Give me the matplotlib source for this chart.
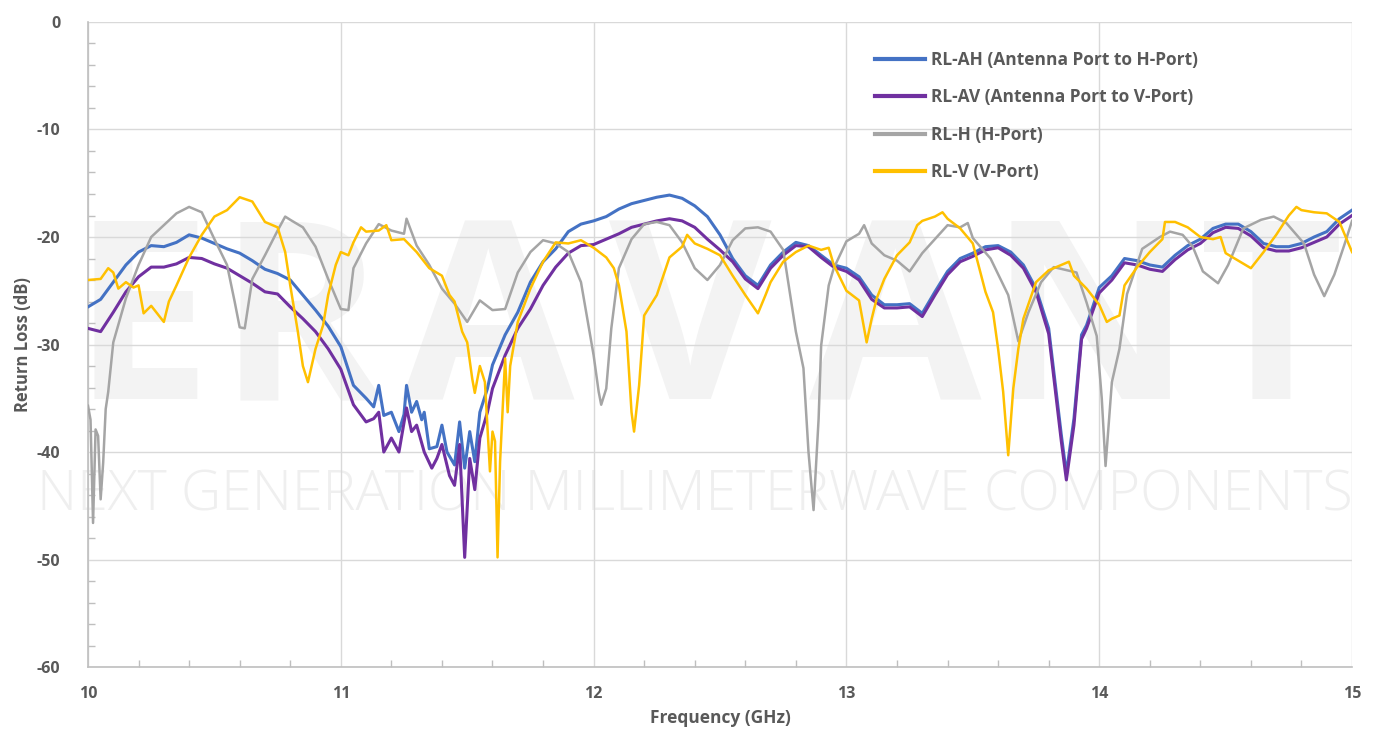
import numpy as np
import matplotlib
matplotlib.use("Agg")
import matplotlib.pyplot as plt

# ---- data (GHz, dB) ----
f_ah = [10.00, 10.05, 10.10, 10.15, 10.20, 10.25, 10.30, 10.35, 10.40, 10.45, 10.50, 10.55, 10.60, 10.65, 10.70, 10.75, 10.80, 10.85, 10.90, 10.95, 11.00,
        11.05, 11.10, 11.13, 11.15, 11.17, 11.20, 11.23, 11.25, 11.26, 11.28, 11.30, 11.32, 11.33, 11.35, 11.38, 11.40, 11.42, 11.45, 11.47, 11.49, 11.51, 11.53, 11.55, 11.58, 11.60, 11.65, 11.70, 11.75, 11.80, 11.85, 11.90, 11.95, 12.00,
        12.05, 12.10, 12.15, 12.20, 12.25, 12.30, 12.35, 12.40, 12.45, 12.50, 12.55, 12.60, 12.65, 12.70, 12.75, 12.80, 12.85, 12.90, 12.95, 13.00,
        13.05, 13.10, 13.15, 13.20, 13.25, 13.30, 13.35, 13.40, 13.45, 13.50, 13.55, 13.60, 13.65, 13.70, 13.75, 13.80, 13.85, 13.87, 13.90, 13.93, 13.95, 14.00,
        14.05, 14.10, 14.15, 14.20, 14.25, 14.30, 14.35, 14.40, 14.45, 14.50, 14.55, 14.60, 14.65, 14.70, 14.75, 14.80, 14.85, 14.90, 14.95, 15.00]
rl_ah = [-26.5, -25.8, -24.2, -22.6, -21.4, -20.8, -20.9, -20.5, -19.8, -20.1, -20.6, -21.1, -21.5, -22.2, -23.0, -23.4, -24.0, -25.4, -26.8, -28.3, -30.2,
         -33.8, -35.0, -35.8, -33.8, -36.6, -36.3, -38.1, -36.5, -33.8, -36.3, -35.3, -37.0, -36.3, -39.7, -39.5, -37.5, -40.0, -41.2, -37.2, -41.5, -38.1, -40.9, -36.3, -34.1, -31.9, -29.1, -27.0, -24.2, -22.3, -21.1, -19.5, -18.8, -18.5,
         -18.1, -17.4, -16.9, -16.6, -16.3, -16.1, -16.4, -17.1, -18.1, -19.8, -22.0, -23.6, -24.5, -22.6, -21.4, -20.5, -20.8, -21.7, -22.6, -22.9,
         -23.7, -25.4, -26.3, -26.3, -26.2, -27.1, -25.1, -23.2, -22.0, -21.5, -20.9, -20.8, -21.4, -22.6, -24.8, -28.5, -38.4, -42.0, -36.9, -29.1, -28.2, -24.7,
         -23.6, -22.0, -22.2, -22.6, -22.8, -21.7, -20.8, -20.2, -19.2, -18.8, -18.8, -19.5, -20.6, -20.9, -20.9, -20.6, -20.0, -19.5, -18.3, -17.5]

f_av = [10.00, 10.05, 10.10, 10.15, 10.20, 10.25, 10.30, 10.35, 10.40, 10.45, 10.50, 10.55, 10.60, 10.65, 10.70, 10.75, 10.80, 10.85, 10.90, 10.95, 11.00,
        11.05, 11.10, 11.13, 11.15, 11.17, 11.20, 11.23, 11.26, 11.28, 11.30, 11.33, 11.36, 11.38, 11.40, 11.43, 11.45, 11.47, 11.49, 11.51, 11.53, 11.55, 11.58, 11.60, 11.65, 11.70, 11.75, 11.80, 11.85, 11.90, 11.95, 12.00,
        12.05, 12.10, 12.15, 12.20, 12.25, 12.30, 12.35, 12.40, 12.45, 12.50, 12.55, 12.60, 12.65, 12.70, 12.75, 12.80, 12.85, 12.90, 12.95, 13.00,
        13.05, 13.10, 13.15, 13.20, 13.25, 13.30, 13.35, 13.40, 13.45, 13.50, 13.55, 13.60, 13.65, 13.70, 13.75, 13.80, 13.85, 13.87, 13.90, 13.93, 13.95, 14.00,
        14.05, 14.10, 14.15, 14.20, 14.25, 14.30, 14.35, 14.40, 14.45, 14.50, 14.55, 14.60, 14.65, 14.70, 14.75, 14.80, 14.85, 14.90, 14.95, 15.00]
rl_av = [-28.5, -28.8, -27.0, -25.1, -23.7, -22.8, -22.8, -22.5, -21.9, -22.0, -22.5, -22.9, -23.6, -24.3, -25.1, -25.3, -26.5, -27.6, -28.8, -30.4, -32.3,
         -35.6, -37.2, -36.9, -36.3, -40.0, -38.7, -40.0, -35.9, -38.1, -37.5, -40.0, -41.5, -40.6, -39.3, -42.2, -43.1, -39.3, -49.8, -40.6, -43.5, -38.7, -36.3, -34.1, -31.0, -28.5, -26.7, -24.5, -22.8, -21.5, -20.8, -20.7,
         -20.2, -19.7, -19.1, -18.8, -18.5, -18.3, -18.5, -19.1, -20.2, -21.2, -22.3, -23.9, -24.8, -22.9, -21.7, -20.8, -20.9, -21.9, -22.8, -23.2,
         -24.0, -25.8, -26.6, -26.6, -26.5, -27.4, -25.4, -23.5, -22.3, -21.8, -21.2, -21.0, -21.7, -22.9, -25.1, -29.0, -39.0, -42.6, -37.5, -29.5, -28.5, -25.2,
         -24.0, -22.4, -22.6, -23.0, -23.2, -22.1, -21.2, -20.6, -19.6, -19.1, -19.2, -19.9, -21.0, -21.3, -21.3, -21.0, -20.5, -20.0, -18.8, -18.0]

f_h = [10.00, 10.01, 10.02, 10.03, 10.04, 10.05, 10.06, 10.07, 10.08, 10.10, 10.15, 10.20, 10.25, 10.30, 10.35, 10.40, 10.45, 10.50, 10.55, 10.58, 10.60, 10.62, 10.65, 10.70, 10.75, 10.78, 10.80, 10.85, 10.90, 10.95, 11.00,
       11.03, 11.05, 11.10, 11.15, 11.20, 11.25, 11.26, 11.30, 11.35, 11.40, 11.45, 11.50, 11.53, 11.55, 11.60, 11.65, 11.70, 11.75, 11.80, 11.85, 11.90, 11.95, 12.00,
       12.02, 12.03, 12.05, 12.07, 12.10, 12.15, 12.20, 12.25, 12.30, 12.35, 12.40, 12.45, 12.50, 12.55, 12.60, 12.65, 12.70, 12.75, 12.80, 12.83, 12.85, 12.87, 12.89, 12.90, 12.93, 12.95, 13.00,
       13.05, 13.07, 13.10, 13.15, 13.20, 13.25, 13.30, 13.35, 13.40, 13.45, 13.48, 13.50, 13.57, 13.64, 13.68, 13.72, 13.77, 13.82, 13.91, 13.95, 13.99, 14.01, 14.025,
       14.05, 14.08, 14.11, 14.17, 14.24, 14.28, 14.33, 14.37, 14.41, 14.47, 14.51, 14.57, 14.64, 14.69, 14.74, 14.81, 14.85, 14.89, 14.93, 14.97, 15.00]
rl_h = [-35.7, -37.0, -46.6, -37.9, -38.5, -44.4, -41.0, -36.0, -34.4, -29.8, -25.7, -22.6, -20.0, -18.9, -17.8, -17.2, -17.7, -20.2, -22.6, -26.0, -28.4, -28.5, -23.9, -21.7, -19.4, -18.1, -18.4, -19.1, -20.9, -23.9, -26.7,
        -26.8, -22.9, -20.6, -18.8, -19.4, -19.7, -18.3, -20.8, -22.6, -24.8, -26.2, -27.9, -26.7, -25.9, -26.8, -26.7, -23.3, -21.4, -20.3, -20.6, -21.4, -24.2, -31.0,
        -34.4, -35.6, -34.1, -28.5, -22.9, -20.2, -18.8, -18.6, -18.9, -20.5, -22.9, -24.0, -22.6, -20.3, -19.2, -19.1, -19.5, -21.2, -28.8, -32.2, -40.0, -45.4, -36.9, -30.1, -24.5, -22.9, -20.4,
        -19.7, -18.9, -20.6, -21.7, -22.2, -23.2, -21.5, -20.2, -18.9, -19.1, -18.7, -20.1, -22.0, -25.4, -29.7, -27.0, -24.2, -22.8, -23.3, -26.1, -29.2, -35.0, -41.3,
        -33.5, -30.4, -25.3, -21.1, -20.0, -19.5, -19.8, -20.9, -23.2, -24.3, -22.6, -19.2, -18.4, -18.1, -18.7, -20.6, -23.5, -25.5, -23.5, -20.7, -18.5]

f_v = [10.00, 10.05, 10.08, 10.10, 10.12, 10.15, 10.18, 10.20, 10.22, 10.25, 10.28, 10.30, 10.32, 10.35, 10.40, 10.45, 10.50, 10.55, 10.60, 10.65, 10.70, 10.75, 10.78, 10.80, 10.83, 10.85, 10.87, 10.90, 10.93, 10.95, 10.98, 11.00,
       11.03, 11.05, 11.08, 11.10, 11.15, 11.18, 11.20, 11.25, 11.30, 11.35, 11.40, 11.43, 11.45, 11.48, 11.50, 11.52, 11.53, 11.55, 11.57, 11.59, 11.60, 11.61, 11.62, 11.63, 11.65, 11.66, 11.67, 11.70, 11.75, 11.80, 11.85, 11.90, 11.95, 12.00,
       12.05, 12.08, 12.10, 12.13, 12.15, 12.16, 12.18, 12.20, 12.25, 12.30, 12.35, 12.37, 12.40, 12.45, 12.50, 12.55, 12.60, 12.65, 12.68, 12.70, 12.75, 12.80, 12.85, 12.90, 12.93, 12.95, 13.00,
       13.05, 13.08, 13.10, 13.12, 13.15, 13.20, 13.25, 13.28, 13.30, 13.35, 13.38, 13.40, 13.45, 13.50, 13.53, 13.55, 13.58, 13.60, 13.62, 13.64, 13.66, 13.68, 13.70, 13.75, 13.80, 13.85, 13.88, 13.90, 13.95, 14.00,
       14.03, 14.05, 14.08, 14.10, 14.15, 14.20, 14.25, 14.26, 14.30, 14.35, 14.40, 14.45, 14.48, 14.50, 14.55, 14.60, 14.65, 14.70, 14.75, 14.78, 14.80, 14.85, 14.90, 14.95, 15.00]
rl_v = [-24.0, -23.9, -22.9, -23.3, -24.8, -24.2, -24.7, -24.5, -27.1, -26.4, -27.3, -27.9, -26.0, -24.5, -21.9, -19.8, -18.1, -17.5, -16.3, -16.7, -18.6, -19.1, -21.4, -24.5, -28.8, -32.0, -33.5, -30.4, -28.2, -25.4, -22.6, -21.4,
        -21.7, -20.5, -19.1, -19.5, -19.4, -18.9, -20.3, -20.2, -21.4, -22.9, -23.6, -25.4, -26.0, -28.8, -29.8, -33.2, -34.5, -32.0, -33.5, -41.8, -38.1, -39.0, -49.8, -40.9, -31.3, -36.3, -32.0, -27.9, -24.8, -22.3, -20.5, -20.6, -20.3, -21.0,
        -21.9, -22.9, -24.5, -28.8, -36.3, -38.1, -33.8, -27.3, -25.4, -21.9, -20.9, -19.8, -20.6, -21.1, -21.7, -23.6, -25.4, -27.1, -25.4, -24.2, -22.3, -21.4, -20.8, -21.2, -21.0, -22.6, -25.0,
        -25.9, -29.8, -27.6, -25.7, -23.9, -21.7, -20.5, -18.9, -18.5, -18.1, -17.7, -18.3, -19.2, -20.6, -23.3, -25.1, -27.0, -30.4, -34.4, -40.3, -34.1, -30.4, -27.6, -24.2, -23.1, -22.6, -22.3, -23.6, -24.8, -26.3,
        -27.9, -27.6, -27.3, -24.5, -22.8, -21.4, -20.2, -18.6, -18.6, -19.1, -20.0, -20.2, -20.0, -21.5, -22.2, -22.9, -21.4, -19.8, -18.0, -17.2, -17.5, -17.7, -17.8, -18.6, -21.4]

labels = ["RL-AH (Antenna Port to H-Port)", "RL-AV (Antenna Port to V-Port)", "RL-H (H-Port)", "RL-V (V-Port)"]
colors = ["#4472C4", "#7030A0", "#A5A5A5", "#FFC000"]

txt = "#595959"
plt.rcParams['font.family'] = ['Open Sans', 'DejaVu Sans']
plt.rcParams['axes.unicode_minus'] = False

fig = plt.figure(figsize=(13.75, 7.33), dpi=100)
ax = fig.add_axes([0.064, 0.09, 0.9193, 0.88])

# watermark behind the curves, letters spread out like the logo
wm_letters = "ERAVANT"
wm_x = [0.103, 0.218, 0.355, 0.502, 0.651, 0.793, 0.925]
for ch, xx in zip(wm_letters, wm_x):
    ax.text(xx, 0.455, ch, transform=fig.transFigure, ha="center", va="baseline",
            fontsize=180, color="#f3f3f3", fontweight="bold", zorder=0.2, clip_on=False)
ax.text(0.5055, 0.304, "NEXT GENERATION MILLIMETERWAVE COMPONENTS", transform=fig.transFigure,
        ha="center", va="baseline", fontsize=40, color="#efefef", zorder=0.2, clip_on=False, fontweight="light")

ax.plot(f_ah, rl_ah, color=colors[0], lw=2.2, label=labels[0], zorder=3)
ax.plot(f_av, rl_av, color=colors[1], lw=2.2, label=labels[1], zorder=3)
ax.plot(f_h, rl_h, color=colors[2], lw=1.8, label=labels[2], zorder=3)
ax.plot(f_v, rl_v, color=colors[3], lw=1.8, label=labels[3], zorder=3)

ax.set_xlim(10, 15)
ax.set_ylim(-60, 0)
ax.set_xticks(np.arange(10, 15.1, 1))
ax.set_yticks(np.arange(-60, 0.1, 10))
ax.set_xticks(np.arange(10, 15.01, 0.2), minor=True)
ax.set_yticks(np.arange(-60, 0.1, 2), minor=True)
ax.grid(True, which="major", color="#d9d9d9", lw=1.0, zorder=0.5)
ax.set_axisbelow(True)

for s in ["top", "right"]:
    ax.spines[s].set_visible(False)
for s in ["left", "bottom"]:
    ax.spines[s].set_color("#bfbfbf")
    ax.spines[s].set_linewidth(1.2)
ax.tick_params(which="both", direction="in", color="#bfbfbf", width=1.0)
ax.tick_params(which="major", length=0)
ax.tick_params(which="minor", length=5)
ax.tick_params(axis="y", which="major", pad=20, labelsize=11.5, labelcolor=txt)
ax.tick_params(axis="x", which="major", pad=14, labelsize=11.5, labelcolor=txt)
for lab in ax.get_xticklabels() + ax.get_yticklabels():
    lab.set_fontweight("bold")

ax.set_xlabel("Frequency (GHz)", fontsize=12.5, fontweight="bold", color=txt, labelpad=5)
ax.set_ylabel("Return Loss (dB)", fontsize=12, fontweight="bold", color=txt, labelpad=3)

leg = ax.legend(loc="upper left", bbox_to_anchor=(0.625, 0.952), bbox_transform=fig.transFigure,
                frameon=False, fontsize=12.5, handlelength=2.9, handletextpad=0.3, labelspacing=1.12)
for t in leg.get_texts():
    t.set_color(txt)
    t.set_fontweight("bold")
for h in leg.get_lines():
    h.set_linewidth(3)

fig.savefig("out.png", dpi=100)
